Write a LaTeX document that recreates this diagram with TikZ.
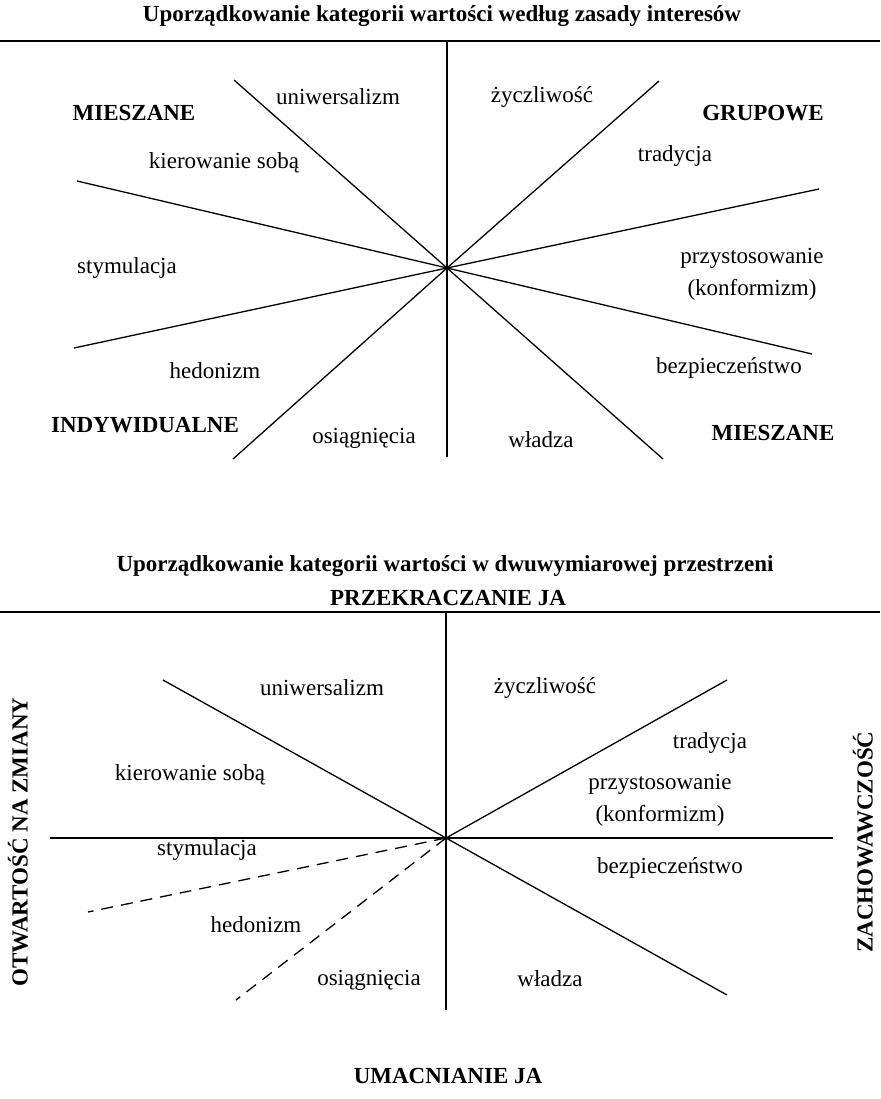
\documentclass[tikz,border=0pt]{standalone}
\usepackage{fontspec}
\setmainfont{Liberation Serif}
\begin{document}
\begin{tikzpicture}[x=1pt,y=-1pt,
  lbl/.style={font=\fontsize{23}{32}\selectfont,inner sep=0pt,align=center},
  hd/.style={font=\fontsize{23}{27}\selectfont\bfseries,inner sep=0pt},
  ln/.style={line width=1.3pt},
  rule/.style={line width=1.8pt},
  dsh/.style={line width=1.3pt,dash pattern=on 12pt off 8pt}]
\useasboundingbox (0,0) rectangle (880,1099);
\clip (0,0) rectangle (880,1099);
% upper diagram
\node[hd] (t1) at (442,16) {Uporządkowanie kategorii wartości według zasady interesów};
\coordinate (c1) at (447,268);
\coordinate (r1l) at (0,41);
\coordinate (r1r) at (880,41);
\coordinate (v1t) at (447,41);
\coordinate (v1b) at (447,457);
\coordinate (a1) at (234,80);
\coordinate (a2) at (663,459);
\coordinate (b1) at (659,81);
\coordinate (b2) at (233,459);
\coordinate (d1) at (77,181);
\coordinate (d2) at (812,354);
\coordinate (e1) at (819,189);
\coordinate (e2) at (74,348);
\draw[rule] (r1l) -- (r1r);
\draw[ln] (v1t) -- (v1b);
\draw[ln] (a1) -- (c1) -- (a2);
\draw[ln] (b1) -- (c1) -- (b2);
\draw[ln] (d1) -- (c1) -- (d2);
\draw[ln] (e1) -- (c1) -- (e2);
\node[hd] (mix1) at (134,113) {MIESZANE};
\node[lbl] (uni1) at (338,97) {uniwersalizm};
\node[lbl] (zyc1) at (542,97) {życzliwość};
\node[hd] (grp) at (763,113) {GRUPOWE};
\node[lbl] (kier1) at (224,163) {kierowanie sobą};
\node[lbl] (trad1) at (675,156) {tradycja};
\node[lbl] (stym1) at (127,268) {stymulacja};
\node[lbl] (konf1) at (752,274) {przystosowanie\\(konformizm)};
\node[lbl] (hed1) at (215,371) {hedonizm};
\node[lbl] (bezp1) at (729,368) {bezpieczeństwo};
\node[hd] (ind) at (145,425) {INDYWIDUALNE};
\node[lbl] (osi1) at (364,438) {osiągnięcia};
\node[lbl] (wla1) at (541,440) {władza};
\node[hd] (mix2) at (773,433) {MIESZANE};
% lower diagram
\node[hd] (t2) at (445,566) {Uporządkowanie kategorii wartości w dwuwymiarowej przestrzeni};
\node[hd] (prz) at (448,598) {PRZEKRACZANIE JA};
\coordinate (c2) at (446,838);
\coordinate (r2l) at (0,612);
\coordinate (r2r) at (880,612);
\coordinate (v2t) at (446,612);
\coordinate (v2b) at (446,1010);
\coordinate (h2l) at (50,838);
\coordinate (h2r) at (833,838);
\coordinate (f1) at (163,680);
\coordinate (f2) at (727,995);
\coordinate (g1) at (727,680);
\coordinate (s1) at (88,912);
\coordinate (s2) at (236,1000);
\draw[rule] (r2l) -- (r2r);
\draw[ln] (v2t) -- (v2b);
\draw[ln] (h2l) -- (h2r);
\draw[ln] (f1) -- (c2) -- (f2);
\draw[ln] (g1) -- (c2);
\draw[dsh] (c2) -- (s1);
\draw[dsh] (c2) -- (s2);
\node[lbl] (uni2) at (322,688) {uniwersalizm};
\node[lbl] (zyc2) at (545,688) {życzliwość};
\node[lbl] (trad2) at (710,743) {tradycja};
\node[lbl] (kier2) at (190,775) {kierowanie sobą};
\node[lbl] (konf2) at (660,800) {przystosowanie\\(konformizm)};
\node[lbl] (stym2) at (207,850) {stymulacja};
\node[lbl] (bezp2) at (670,868) {bezpieczeństwo};
\node[lbl] (hed2) at (256,925) {hedonizm};
\node[lbl] (osi2) at (369,980) {osiągnięcia};
\node[lbl] (wla2) at (550,979) {władza};
\node[hd] (uma) at (448,1076) {UMACNIANIE JA};
\node[hd,rotate=90] (otw) at (18,842) {OTWARTOŚĆ NA ZMIANY};
\node[hd,rotate=90] (zach) at (863,842) {ZACHOWAWCZOŚĆ};
\end{tikzpicture}
\end{document}
